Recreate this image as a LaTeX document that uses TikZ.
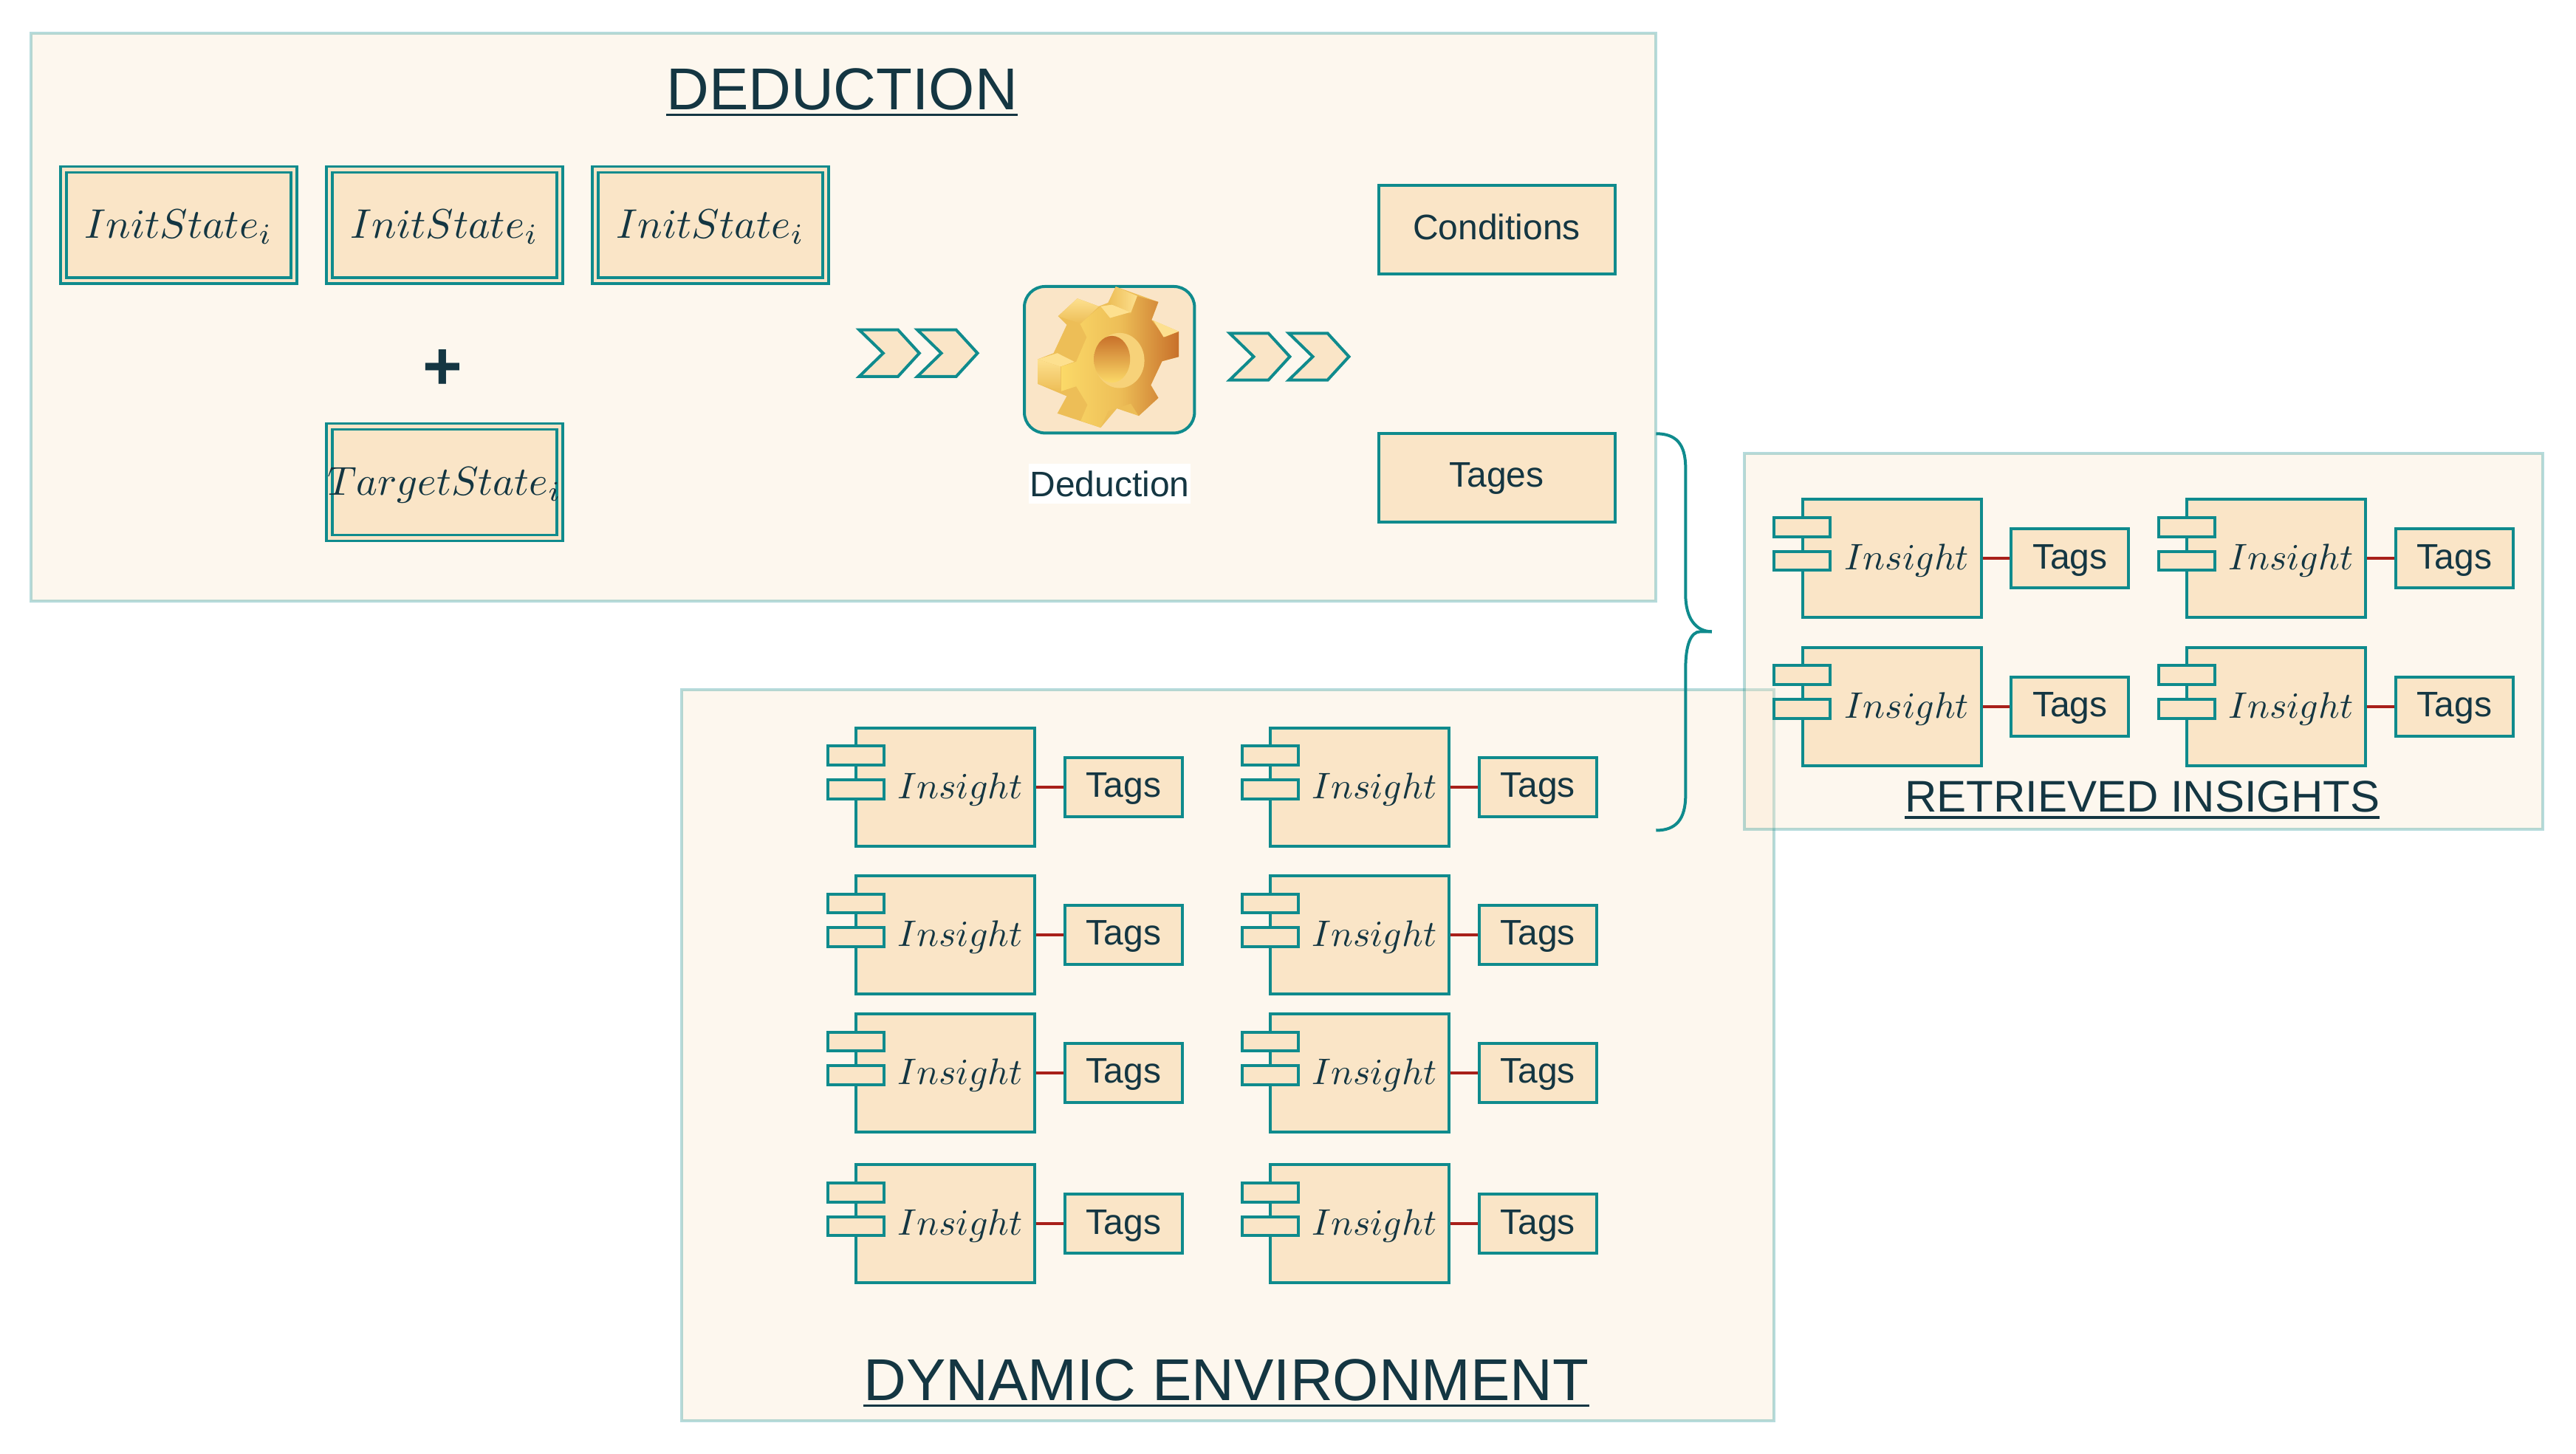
\documentclass[tikz,border=0pt]{standalone}
\usepackage{fontspec}
\setmainfont{Liberation Sans}
\definecolor{sandfill}{HTML}{FAE5C7}
\definecolor{tealline}{HTML}{0F8B8D}
\definecolor{inktext}{HTML}{143642}
\definecolor{redlink}{HTML}{A8201A}
\definecolor{gearlight}{HTML}{FDE08F}
\definecolor{gearmid}{HTML}{EDBE57}
\definecolor{geardark}{HTML}{C8702A}
\definecolor{gearyellow}{HTML}{FBD968}
% underlined panel heading
\newcommand{\headline}[1]{\setbox0=\hbox{#1}\dimen0=\wd0\rlap{\box0}\rule[-2.2pt]{\dimen0}{.8pt}}
\newcommand{\scaledmath}[2]{\scalebox{#1}{$#2$}}
% one insight with its tags
\newcommand{\insightitem}[3]{
\begin{scope}[shift={(#2,#3)}]
\node[insightbox] (#1box) at (54.5,36) {};
\node[insighttab] (#1taba) at (0,17) {};
\node[insighttab] (#1tabb) at (0,37.5) {};
\node[mathlabel] (#1text) at (63.5,43) {\scaledmath{1.25}{Insight}};
\node[tagbox] (#1tags) at (163,36) {Tags};
\draw[redlink,line width=1pt] (#1box) -- (#1tags);
\end{scope}}
\newcommand{\chevronmark}[2]{
\draw[tealline,fill=sandfill,line width=1pt,line join=miter] (#1,#2) -- ++(23.6,0) -- ++(13,14.2) -- ++(-13,14.2) -- ++(-23.6,0) -- ++(14.6,-14.2) -- cycle;}
\begin{document}
\begin{tikzpicture}[x=0.5561pt,y=-0.5561pt,
panel/.style={draw=tealline,fill=sandfill,opacity=0.3,line width=1pt,inner sep=0,minimum width=#1},
boxbase/.style={draw=tealline,fill=sandfill,line width=1pt,inner sep=0,text=inktext},
statebox/.style={boxbase,double=sandfill,line width=.9pt,double distance=1.1pt,minimum width=78pt,minimum height=37.7pt,text height=11.3pt,text depth=2.5pt},
outbox/.style={boxbase,minimum width=80pt,minimum height=30pt,text height=9pt,text depth=2.7pt,font=\fontsize{12}{14}\selectfont},
tagbox/.style={boxbase,minimum width=39.7pt,minimum height=20pt,text height=9.2pt,text depth=2.2pt,font=\fontsize{12}{14}\selectfont},
insightbox/.style={boxbase,minimum width=60.5pt,minimum height=40pt},
insighttab/.style={boxbase,minimum width=19pt,minimum height=6.4pt},
mathlabel/.style={text=inktext,inner sep=0,anchor=base},
heading/.style={text=inktext,inner sep=0,font=\fontsize{#1}{#1}\selectfont}]
\useasboundingbox (0,0) rectangle (1568,884.7);
\fill[white] (0,0) rectangle (1568,884.7);
% panels
\node[panel=550pt,minimum height=192.4pt] (deductionpanel) at (513.5,193) {};
\node[panel=369.8pt,minimum height=247.5pt] (dynamicpanel) at (747.5,642.5) {};
\node[panel=270.3pt,minimum height=127.3pt] (retrievedpanel) at (1304.8,390.5) {};
\node[heading=20] (deductiontitle) at (512.5,56) {\headline{DEDUCTION}};
\node[heading=20] (dynamictitle) at (746.5,842) {\headline{DYNAMIC ENVIRONMENT}};
\node[heading=15] (retrievedtitle) at (1304,487) {\headline{RETRIEVED INSIGHTS}};
% states
\node[statebox] (inita) at (108.7,137) {\scaledmath{1.4}{InitState_i}};
\node[statebox] (initb) at (270.5,137) {\scaledmath{1.4}{InitState_i}};
\node[statebox] (initc) at (432.5,137) {\scaledmath{1.4}{InitState_i}};
\node[text=inktext,inner sep=0,font=\fontsize{23}{23}\selectfont\bfseries] (plussign) at (269.5,225) {+};
\node[statebox] (target) at (270.5,293.5) {\makebox[0pt]{\scaledmath{1.37}{TargetState_i}}};
\chevronmark{523}{200.8}
\chevronmark{558.4}{200.8}
\chevronmark{748.5}{202.9}
\chevronmark{784.5}{202.9}
% gear
\node[boxbase,rounded corners=7pt,minimum width=57.6pt,minimum height=49.6pt] (gearbox) at (675.3,219) {};
\begin{scope}[shift={(494.5,152.8)},x=0.12757pt,y=-0.0833pt]
\fill[gearmid] (805,145) -- (918,207) -- (900,280) -- (972,327) -- (972,430) -- (928,448) -- (898,545) -- (918,597) -- (866,670) -- (808,640) -- (765,718) -- (650,660) -- (675,590) -- (598,540) -- (598,440) -- (640,415) -- (675,300) -- (652,265) -- (703,193) -- (760,225) -- (785,210) -- cycle;
\shade[left color=gearyellow,right color=geardark,middle color=gearmid] (710,295) -- (765,225) -- (845,255) -- (862,183) -- (918,207) -- (900,280) -- (935,350) -- (972,327) -- (972,430) -- (928,448) -- (898,545) -- (918,597) -- (866,670) -- (845,620) -- (785,650) -- (765,718) -- (712,690) -- (730,625) -- (700,550) -- (660,570) -- (660,470) -- (700,450) -- (728,350) -- cycle;
\fill[gearlight] (765,225) -- (790,272) -- (845,248) -- (795,218) -- cycle;
\fill[gearlight] (905,282) -- (972,327) -- (932,350) -- cycle;
\fill[gearlight] (598,440) -- (650,415) -- (695,450) -- (658,470) -- cycle;
\shade[top color=gearlight,bottom color=gearmid] (598,440) -- (658,470) -- (658,570) -- (598,540) -- cycle;
\shade[left color=gearmid,right color=gearlight] (805,145) -- (862,183) -- (845,250) -- (785,210) -- cycle;
\shade[top color=gearlight,bottom color=gearmid] (652,265) -- (703,193) -- (760,225) -- (712,295) -- cycle;
\fill[gearlight!60!gearmid] (815,445) ellipse (66 and 112);
\shade[top color=geardark,bottom color=gearyellow] (795,440) ellipse (48 and 95);
\end{scope}
\node[fill=white,inner sep=0,text=inktext,minimum width=54.8pt,minimum height=13.6pt,font=\fontsize{12}{14}\selectfont] (gearlabel) at (675.5,294.5) {Deduction};
\node[outbox] (conditions) at (911,140) {Conditions};
\node[outbox] (tages) at (911,291) {Tages};
% insights on the right
\insightitem{ra}{1097}{304}
\insightitem{rb}{1331}{304}
\insightitem{rc}{1097}{394}
\insightitem{rd}{1331}{394}
% insights in the environment
\insightitem{da}{521}{443}
\insightitem{db}{773}{443}
\insightitem{dc}{521}{533}
\insightitem{dd}{773}{533}
\insightitem{de}{521}{617}
\insightitem{df}{773}{617}
\insightitem{dg}{521}{709}
\insightitem{dh}{773}{709}
% brace
\coordinate (bracetop) at (1008,264);
\coordinate (bracetip) at (1042,384.5);
\coordinate (bracebottom) at (1008,505.5);
\draw[tealline,line width=1pt] (bracetop) .. controls +(12,0) and +(0,-15) .. (1026,285) -- (1026,362) .. controls +(0,14) and +(-10,0) .. (bracetip);
\draw[tealline,line width=1pt] (bracetip) -- +(-7,0) .. controls +(-6,0) and +(0,-14) .. (1026,407) -- (1026,484) .. controls +(0,15) and +(12,0) .. (bracebottom);
\end{tikzpicture}
\end{document}
